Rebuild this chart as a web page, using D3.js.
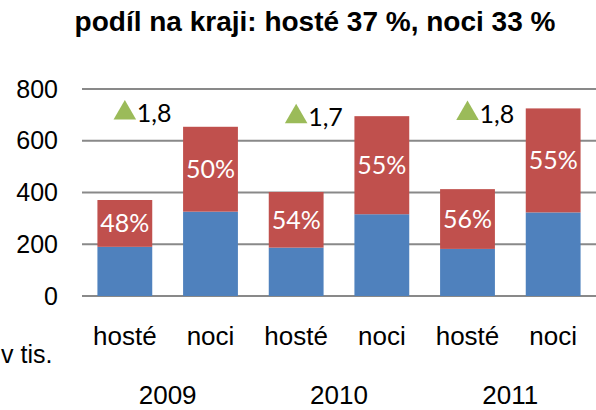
<!DOCTYPE html>
<meta charset="utf-8">
<script src="https://d3js.org/d3.v7.min.js"></script>
<style>
  body { margin: 0; background: #fff; }
</style>
<div id="chart"></div>
<script>
// Data
var years = ["2009", "2010", "2011"];
var categories = ["hosté", "noci"];
var blueValues = [190, 326, 187, 316, 182, 323];   // lower segment
var redValues = [181, 328, 215, 379, 231, 402];    // upper segment
var shareLabels = ["48%", "50%", "54%", "55%", "56%", "55%"];
var stayLabels = ["1,8", "1,7", "1,8"];
var stayPos = [707, 693, 705];                      // marker height on value axis
var yTicks = [0, 200, 400, 600, 800];

var width = 596, height = 410;
var arial = "Liberation Sans, Arial, sans-serif";
var calibri = "Lato, Open Sans, sans-serif";

var svg = d3.select("#chart").append("svg")
    .attr("width", width)
    .attr("height", height);

// Title
svg.append("text")
  .attr("x", 315)
  .attr("y", 31)
  .attr("text-anchor", "middle")
  .style("font-family", arial)
  .style("font-weight", "bold")
  .style("font-size", "28px")
  .text("podíl na kraji: hosté 37 %, noci 33 %");

// Scales
var bars = d3.range(blueValues.length);
var x = d3.scaleBand()
  .domain(bars)
  .range([82, 596])
  .paddingInner(0.36)
  .paddingOuter(0.18);

var y = d3.scaleLinear()
  .domain([0, 800])
  .range([296, 89]);

// Gridlines
svg.append("g")
  .selectAll("line")
  .data(yTicks)
  .enter()
  .append("line")
    .attr("x1", 82)
    .attr("x2", 596)
    .attr("y1", function(d) { return y(d); })
    .attr("y2", function(d) { return y(d); })
    .attr("stroke", "#898989")
    .attr("stroke-width", 2);

// Y axis labels
var yAxis = svg.append("g")
  .attr("transform", "translate(58,0)")
  .call(d3.axisLeft(y).tickValues(yTicks).tickSize(0).tickPadding(0));
yAxis.select(".domain").remove();
yAxis.selectAll("text")
  .style("font-family", arial)
  .style("font-size", "25px")
  .attr("fill", "#000");

// Bars
svg.selectAll(".blue")
  .data(bars)
  .enter()
  .append("rect")
    .attr("x", function(i) { return x(i); })
    .attr("y", function(i) { return y(blueValues[i]); })
    .attr("width", x.bandwidth())
    .attr("height", function(i) { return y(0) - y(blueValues[i]); })
    .attr("fill", "#4f81bd");

svg.selectAll(".red")
  .data(bars)
  .enter()
  .append("rect")
    .attr("x", function(i) { return x(i); })
    .attr("y", function(i) { return y(blueValues[i] + redValues[i]); })
    .attr("width", x.bandwidth())
    .attr("height", function(i) { return y(blueValues[i]) - y(blueValues[i] + redValues[i]); })
    .attr("fill", "#c0504d");

// Share labels inside red segments
svg.selectAll(".share")
  .data(bars)
  .enter()
  .append("text")
    .attr("x", function(i) { return x(i) + x.bandwidth() / 2; })
    .attr("y", function(i) { return y(blueValues[i] + redValues[i] / 2); })
    .attr("dy", "0.36em")
    .attr("text-anchor", "middle")
    .attr("fill", "#fff")
    .style("font-family", calibri)
    .style("font-size", "25px")
    .text(function(i) { return shareLabels[i]; });

// Average stay markers (above guests bars)
var tri = d3.symbol().type(d3.symbolTriangle).size(220);
stayLabels.forEach(function(lbl, k) {
  var cx = x(k * 2) + x.bandwidth() / 2;
  var cy = y(stayPos[k]);
  svg.append("path")
    .attr("d", tri())
    .attr("transform", "translate(" + cx + "," + cy + ")")
    .attr("fill", "#9bbb59");
  svg.append("text")
    .attr("x", cx + 12)
    .attr("y", cy)
    .attr("dy", "0.36em")
    .style("font-family", calibri)
    .style("font-size", "25px")
    .attr("fill", "#000")
    .text(lbl);
});

// Category labels
svg.selectAll(".cat")
  .data(bars)
  .enter()
  .append("text")
    .attr("x", function(i) { return x(i) + x.bandwidth() / 2; })
    .attr("y", 345)
    .attr("text-anchor", "middle")
    .style("font-family", arial)
    .style("font-size", "26px")
    .text(function(i) { return categories[i % 2]; });

// Year labels
svg.selectAll(".year")
  .data(years)
  .enter()
  .append("text")
    .attr("x", function(d, k) { return (x(k * 2) + x(k * 2 + 1) + x.bandwidth()) / 2; })
    .attr("y", 404)
    .attr("text-anchor", "middle")
    .style("font-family", arial)
    .style("font-size", "26px")
    .text(function(d) { return d; });

// Unit
svg.append("text")
  .attr("x", 1)
  .attr("y", 363)
  .style("font-family", arial)
  .style("font-size", "25px")
  .text("v tis.");
</script>
